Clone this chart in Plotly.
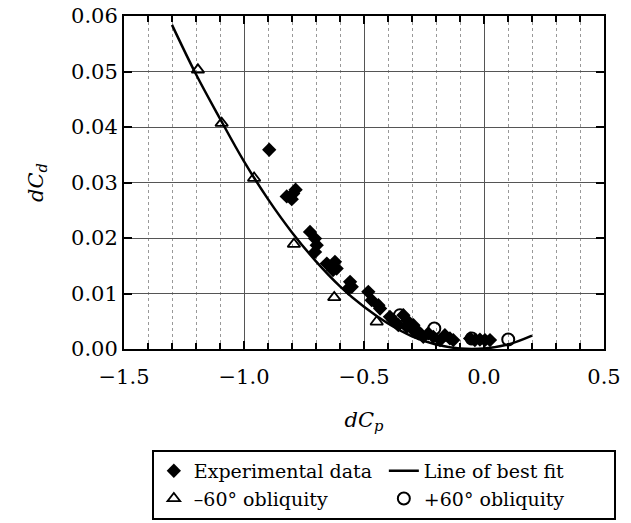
import plotly.graph_objects as go

# Experimental data (diamonds)
exp_x = [-0.895, -0.822, -0.801, -0.785, -0.795, -0.725, -0.704, -0.697, -0.704,
         -0.655, -0.621, -0.614, -0.629, -0.558, -0.551, -0.565,
         -0.482, -0.468, -0.440, -0.433,
         -0.392, -0.378, -0.357, -0.322, -0.301, -0.280, -0.253, -0.232,
         -0.336, -0.315, -0.294, -0.287, -0.274,
         -0.211, -0.183, -0.163, -0.142, -0.128,
         -0.058, -0.038, -0.017, 0.004, 0.025]
exp_y = [0.0359, 0.0275, 0.0270, 0.0287, 0.0280, 0.0211, 0.0199, 0.0187, 0.0175,
         0.0154, 0.0157, 0.0145, 0.0142, 0.0121, 0.0112, 0.0109,
         0.0103, 0.0088, 0.0079, 0.0073,
         0.0058, 0.0052, 0.0043, 0.0040, 0.0037, 0.0034, 0.0022, 0.0028,
         0.0061, 0.0049, 0.0043, 0.0031, 0.0028,
         0.0022, 0.0016, 0.0025, 0.0019, 0.0016,
         0.0019, 0.0016, 0.0017, 0.0016, 0.0016]

# -60 deg obliquity (open triangles)
neg_x = [-1.192, -1.093, -0.958, -0.792, -0.624, -0.447, -0.260]
neg_y = [0.0503, 0.0407, 0.0308, 0.0189, 0.0093, 0.0049, 0.0026]

# +60 deg obliquity (open circles)
pos_x = [-0.350, -0.207, -0.051, 0.101]
pos_y = [0.0061, 0.0037, 0.0019, 0.0017]

# Line of best fit
fit_x = [-1.30, -1.20, -1.10, -1.00, -0.90, -0.80, -0.70, -0.60, -0.50, -0.40,
         -0.30, -0.20, -0.10, 0.00, 0.10, 0.20]
fit_y = [0.0584, 0.0495, 0.0415, 0.0338, 0.0270, 0.0210, 0.0158, 0.0113, 0.0076, 0.0046,
         0.0023, 0.0008, 0.0001, 0.0001, 0.0008, 0.0024]

x_ticks = [-1.5, -1.0, -0.5, 0.0, 0.5]
y_ticks = [0.00, 0.01, 0.02, 0.03, 0.04, 0.05, 0.06]

FONT = "DejaVu Serif, serif"

fig = go.Figure()
fig.add_trace(go.Scatter(x=exp_x, y=exp_y, mode="markers", name="Experimental data",
                         marker=dict(symbol="diamond", size=11, color="black")))
fig.add_trace(go.Scatter(x=fit_x, y=fit_y, mode="lines", name="Line of best fit",
                         line=dict(color="black", width=2.5, shape="spline")))
fig.add_trace(go.Scatter(x=neg_x, y=neg_y, mode="markers", name="\u201360\u00b0 obliquity",
                         marker=dict(symbol="triangle-up-open", size=11, color="black",
                                     line=dict(width=1.8, color="black"))))
fig.add_trace(go.Scatter(x=pos_x, y=pos_y, mode="markers", name="+60\u00b0 obliquity",
                         marker=dict(symbol="circle-open", size=12, color="black",
                                     line=dict(width=2, color="black"))))

fig.update_layout(
    width=631, height=523,
    margin=dict(l=124, r=27, t=16, b=174, autoexpand=False),
    plot_bgcolor="white", paper_bgcolor="white",
    font=dict(family=FONT, size=21, color="black"),
    showlegend=True,
    legend=dict(orientation="h", x=0.058, xanchor="left", y=-0.303, yanchor="top",
                bordercolor="black", borderwidth=2, entrywidth=185,
                font=dict(family=FONT, size=19), tracegroupgap=0),
)

fig.update_xaxes(
    range=[-1.5, 0.5], tickvals=x_ticks, tickformat=".1f",
    showline=True, linecolor="black", linewidth=2, mirror="ticks",
    ticks="inside", ticklen=8, tickwidth=2, tickcolor="black",
    ticklabelstandoff=8,
    showgrid=True, gridcolor="#555555", gridwidth=1, zeroline=False,
    minor=dict(dtick=0.1, tick0=0, showgrid=True, gridcolor="#999999",
               griddash="dot", gridwidth=1, ticks="inside", ticklen=6,
               tickwidth=2, tickcolor="black"),
    title=dict(text="<i>dC</i><sub><i>p</i></sub>", font=dict(family=FONT, size=21), standoff=24),
)
fig.update_yaxes(
    range=[0, 0.06], tickvals=y_ticks, tickformat=".2f", ticksuffix="\u2009",
    showline=True, linecolor="black", linewidth=2, mirror="ticks",
    ticks="inside", ticklen=8, tickwidth=2, tickcolor="black",
    showgrid=True, gridcolor="#555555", gridwidth=1, zeroline=False,
    title=dict(text="<i>dC</i><sub><i>d</i></sub>", font=dict(family=FONT, size=21), standoff=22),
)

fig.write_html("out.html")
